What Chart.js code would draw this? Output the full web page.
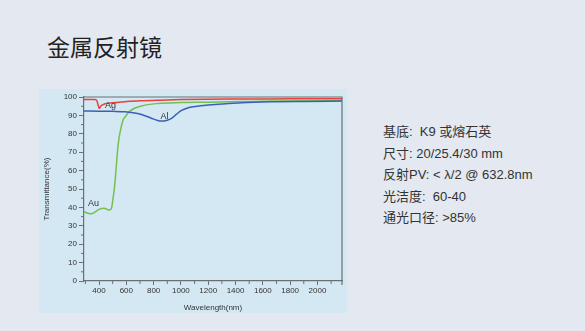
<!DOCTYPE html>
<html>
<head>
<meta charset="utf-8">
<script src="https://cdn.jsdelivr.net/npm/chart.js@4.4.1/dist/chart.umd.min.js"></script>
<style>
    html, body { margin: 0; padding: 0; }
    body {
        width: 585px; height: 331px; position: relative; overflow: hidden;
        background: #e4e8f0;
        font-family: "Liberation Sans", "Noto Sans CJK SC", sans-serif;
        color: #222;
    }
    .titulo { position: absolute; left: 47px; top: 30px; font-size: 23px; line-height: 32px; font-family: "Noto Sans CJK SC", sans-serif; }
    .panel { position: absolute; left: 39px; top: 89px; width: 308px; height: 224px; background: #d4e8f3; }
    .specs { position: absolute; left: 383px; top: 121px; font-size: 13px; color: #333; }
    .specs div { height: 21.5px; line-height: 21.5px; white-space: nowrap; }
</style>
</head>
<body>
<div class="titulo">金属反射镜</div>
<div class="panel"><canvas id="reflChart" width="308" height="224"></canvas></div>
<div class="specs">
    <div>基底:&nbsp; K9 或熔石英</div>
    <div>尺寸: 20/25.4/30 mm</div>
    <div>反射PV: &lt; λ/2 @ 632.8nm</div>
    <div>光洁度:&nbsp; 60-40</div>
    <div>通光口径: &gt;85%</div>
</div>
<script>
// Curvas de transmitancia por material (longitud de onda en nm, T en %)
const agWl = [290, 330, 370, 385, 395, 402, 415, 443, 500, 590, 700, 850, 1000, 1400, 1800, 2180];
const agT  = [98.7, 98.7, 98.6, 97.8, 95.2, 93.8, 95.2, 96.3, 96.9, 97.4, 97.9, 98.3, 98.6, 98.9, 99.0, 99.1];

const alWl = [290, 400, 500, 590, 650, 711, 780, 830, 858, 900, 931, 970, 1005, 1054, 1120, 1202, 1300, 1445, 1690, 1900, 2180];
const alT  = [92.4, 92.3, 92.2, 92.0, 91.5, 90.5, 88.6, 87.2, 86.9, 87.4, 88.4, 90.8, 92.7, 94.2, 95.0, 95.6, 96.2, 96.9, 97.4, 97.6, 97.8];

const auWl = [290, 320, 344, 370, 400, 437, 474, 491, 503, 515, 540, 576, 589, 625, 711, 834, 1000, 1202, 1445, 1700, 2180];
const auT  = [37.7, 36.8, 36.5, 37.4, 38.9, 39.6, 38.6, 39.5, 45.0, 52.0, 74.0, 87.5, 88.9, 92.3, 95.1, 96.5, 97.0, 97.2, 97.5, 97.8, 98.0];

const xTicks = [400, 600, 800, 1000, 1200, 1400, 1600, 1800, 2000];
const yTicks = [0, 10, 20, 30, 40, 50, 60, 70, 80, 90, 100];

// Etiquetas de cada curva, en coordenadas de datos
const curveLabels = [
    { text: 'Ag', x: 485, y: 95.6 },
    { text: 'Al', x: 880, y: 89.6 },
    { text: 'Au', x: 360, y: 42.0 },
];

const toXY = (xs, ys) => xs.map((x, i) => ({ x: x, y: ys[i] }));

const axisColor = '#6b6f73';
const labelFont = { family: '"Liberation Sans", Arial, sans-serif', size: 8 };

// marco superior/derecho, ticks menores y etiquetas de curva
const framePlugin = {
    id: 'framePlugin',
    afterDatasetsDraw(chart) {
        const { ctx, chartArea: a, scales } = chart;
        ctx.save();
        ctx.strokeStyle = axisColor;
        ctx.lineWidth = 1.2;
        ctx.beginPath();
        ctx.moveTo(a.left, a.top);
        ctx.lineTo(a.right, a.top);
        ctx.lineTo(a.right, a.bottom + 4);
        ctx.stroke();

        ctx.lineWidth = 1;
        ctx.beginPath();
        for (let v = 5; v < 100; v += 10) {
            const py = scales.y.getPixelForValue(v);
            ctx.moveTo(a.left - 3, py);
            ctx.lineTo(a.left, py);
        }
        for (let v = 300; v <= 2100; v += 200) {
            const px = scales.x.getPixelForValue(v);
            ctx.moveTo(px, a.bottom);
            ctx.lineTo(px, a.bottom + 3);
        }
        ctx.stroke();

        ctx.fillStyle = '#333';
        ctx.font = '9px "Liberation Sans", Arial, sans-serif';
        ctx.textAlign = 'center';
        ctx.textBaseline = 'middle';
        curveLabels.forEach(l => {
            ctx.fillText(l.text, scales.x.getPixelForValue(l.x), scales.y.getPixelForValue(l.y));
        });
        ctx.restore();
    }
};

const ctxRefl = document.getElementById('reflChart').getContext('2d');
new Chart(ctxRefl, {
    type: 'line',
    data: {
        datasets: [
            { label: 'Ag', data: toXY(agWl, agT), borderColor: '#e8403c' },
            { label: 'Al', data: toXY(alWl, alT), borderColor: '#3a60b5' },
            { label: 'Au', data: toXY(auWl, auT), borderColor: '#74c04f' },
        ].map(d => Object.assign(d, {
            borderWidth: 1.5,
            pointRadius: 0,
            fill: false,
            cubicInterpolationMode: 'monotone',
        }))
    },
    options: {
        responsive: false,
        animation: false,
        layout: { padding: { left: 0, right: 5, top: 8, bottom: 0 } },
        plugins: { legend: { display: false }, tooltip: { enabled: false } },
        scales: {
            x: {
                type: 'linear',
                min: 290,
                max: 2180,
                afterBuildTicks: (s) => { s.ticks = xTicks.map(v => ({ value: v })); },
                afterFit: (s) => { s.height = 32; },
                grid: { drawOnChartArea: false, tickLength: 4, tickColor: axisColor, tickWidth: 1 },
                border: { color: axisColor, width: 1.2 },
                ticks: { color: '#333', font: labelFont, padding: 1, maxRotation: 0, callback: (v) => String(v) },
                title: { display: true, text: 'Wavelength(nm)', color: '#333', font: labelFont, padding: { top: 2, bottom: 0 } }
            },
            y: {
                min: 0,
                max: 100,
                afterBuildTicks: (s) => { s.ticks = yTicks.map(v => ({ value: v })); },
                afterFit: (s) => { s.width = 45; },
                grid: { drawOnChartArea: false, tickLength: 5, tickColor: axisColor, tickWidth: 1 },
                border: { color: axisColor, width: 1.2 },
                ticks: { color: '#333', font: labelFont, padding: 2 },
                title: { display: true, text: 'Transmittance(%)', color: '#333', font: labelFont, padding: { top: 3, bottom: 0 } }
            }
        }
    },
    plugins: [framePlugin]
});
</script>
</body>
</html>
